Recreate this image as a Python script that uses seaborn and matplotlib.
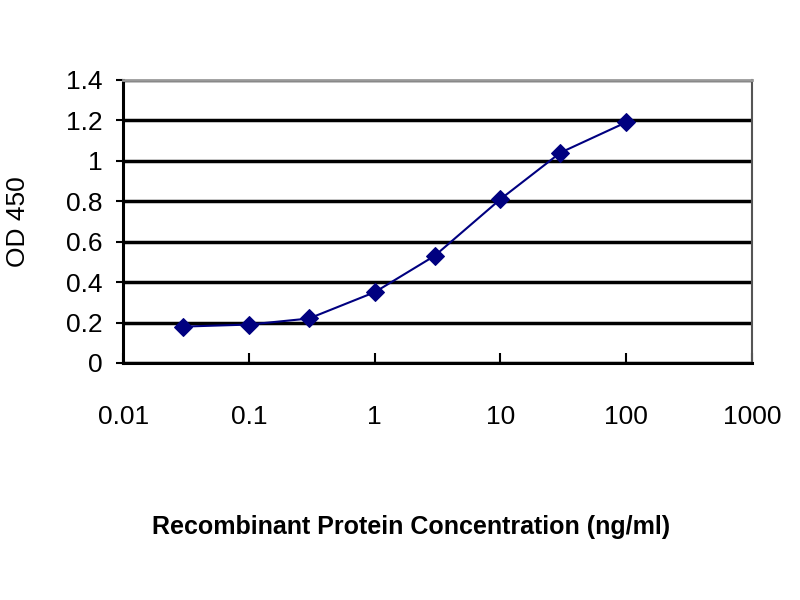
import matplotlib
matplotlib.use('Agg')
import matplotlib.pyplot as plt
import seaborn as sns
import pandas as pd
from matplotlib.ticker import FixedLocator, FixedFormatter, NullLocator

# Data
concentration = [0.03, 0.1, 0.3, 1, 3, 10, 30, 100]
od450 = [0.18, 0.19, 0.22, 0.35, 0.53, 0.81, 1.04, 1.19]
x_ticks = [0.01, 0.1, 1, 10, 100, 1000]
x_tick_labels = ['0.01', '0.1', '1', '10', '100', '1000']
y_ticks = [0, 0.2, 0.4, 0.6, 0.8, 1, 1.2, 1.4]
y_tick_labels = ['0', '0.2', '0.4', '0.6', '0.8', '1', '1.2', '1.4']

df = pd.DataFrame({'conc': concentration, 'od': od450})

sns.set_style('white')
plt.rcParams['font.family'] = ['Liberation Sans', 'DejaVu Sans']
plt.rcParams['text.color'] = 'black'
plt.rcParams['axes.labelcolor'] = 'black'
plt.rcParams['xtick.color'] = 'black'
plt.rcParams['ytick.color'] = 'black'

fig = plt.figure(figsize=(8, 6), dpi=100)
ax = fig.add_axes([0.154, 0.395, 0.786, 0.472])

sns.lineplot(data=df, x='conc', y='od', ax=ax, color='#000080', linewidth=1.5,
             marker='D', markersize=9, markeredgecolor='#000080',
             markerfacecolor='#000080')

ax.set_xscale('log')
ax.set_xlim(0.01, 1000)
ax.set_ylim(0, 1.4)

ax.xaxis.set_major_locator(FixedLocator(x_ticks))
ax.xaxis.set_major_formatter(FixedFormatter(x_tick_labels))
ax.xaxis.set_minor_locator(NullLocator())
ax.yaxis.set_major_locator(FixedLocator(y_ticks))
ax.yaxis.set_major_formatter(FixedFormatter(y_tick_labels))

ax.grid(axis='y', color='black', linewidth=2.5)
ax.grid(axis='x', visible=False)
ax.set_axisbelow(True)

ax.tick_params(axis='x', direction='in', length=7, width=1.5, pad=30,
               labelsize=19, bottom=True)
ax.tick_params(axis='y', direction='out', length=5, width=1.5, pad=10,
               labelsize=19, left=True)

for side in ['left', 'bottom']:
    ax.spines[side].set_color('black')
    ax.spines[side].set_linewidth(2.2)
ax.spines['top'].set_color('#999999')
ax.spines['top'].set_linewidth(2)
ax.spines['right'].set_color('#555555')
ax.spines['right'].set_linewidth(1.5)

ax.set_xlabel('')
fig.text(0.514, 0.122, 'Recombinant Protein Concentration (ng/ml)',
         fontsize=18, fontweight='bold', ha='center', va='center')
ax.set_ylabel('OD 450', fontsize=19, labelpad=26)

fig.savefig('out.png', dpi=100)
